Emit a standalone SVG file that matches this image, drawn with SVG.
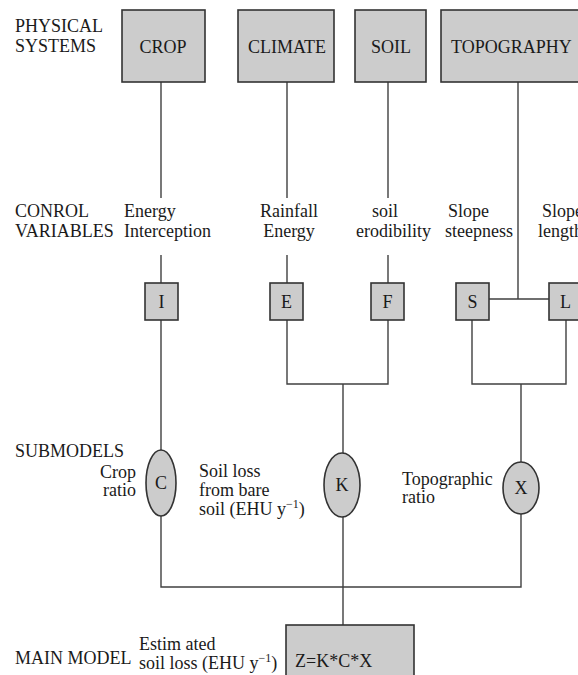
<svg xmlns="http://www.w3.org/2000/svg" width="578" height="675" viewBox="0 0 578 675">
<style>
text{font-family:"Liberation Serif","Times New Roman",serif;font-size:18px;fill:#1a1a1a}
.c{text-anchor:middle}
.r{text-anchor:end}
.box{fill:#cccccc;stroke:#333333;stroke-width:1.6}
.ln{fill:none;stroke:#404040;stroke-width:1.4}
.sup{font-size:12px}
</style>
<rect width="578" height="675" fill="#ffffff"/>
<g id="labels">
<text x="15" y="32">PHYSICAL</text>
<text x="15" y="52">SYSTEMS</text>
<text x="15" y="217">CONROL</text>
<text x="15" y="237">VARIABLES</text>
<text x="15" y="457">SUBMODELS</text>
<text x="15" y="664">MAIN MODEL</text>
<text x="124" y="217">Energy</text>
<text x="124" y="237">Interception</text>
<text x="289" y="217" class="c">Rainfall</text>
<text x="289" y="237" class="c">Energy</text>
<text x="372" y="217">soil</text>
<text x="356" y="237">erodibility</text>
<text x="448" y="217">Slope</text>
<text x="445" y="237">steepness</text>
<text x="542" y="217">Slope</text>
<text x="538" y="237">length</text>
<text x="136" y="478" class="r">Crop</text>
<text x="136" y="496" class="r">ratio</text>
<text x="199" y="477">Soil loss</text>
<text x="199" y="496">from bare</text>
<text x="199" y="515">soil (EHU y<tspan class="sup" dy="-7">−1</tspan><tspan dy="7">)</tspan></text>
<text x="402" y="485">Topographic</text>
<text x="402" y="503">ratio</text>
<text x="139" y="650">Estim ated</text>
<text x="139" y="669">soil loss (EHU y<tspan class="sup" dy="-7">−1</tspan><tspan dy="7">)</tspan></text>
</g>
<g id="connectors">
<path class="ln" d="M161 82V198M161 255V283M161 320V450"/>
<path class="ln" d="M287 82V198M287 255V283"/>
<path class="ln" d="M388 82V198M388 255V283"/>
<path class="ln" d="M518 82V299M489 299H549"/>
<path class="ln" d="M287 320V384H388V320M343 384V454"/>
<path class="ln" d="M472 320V384H566V320M521 384V462"/>
<path class="ln" d="M161 516V587H521V514M343 517V625"/>
</g>
<g id="crop"><rect class="box" x="122" y="10" width="83" height="72"/><text x="163" y="53" class="c">CROP</text></g>
<g id="climate"><rect class="box" x="238" y="10" width="96" height="72"/><text x="287" y="53" class="c">CLIMATE</text></g>
<g id="soil"><rect class="box" x="355" y="10" width="71" height="72"/><text x="391" y="53" class="c">SOIL</text></g>
<g id="topography"><rect class="box" x="441" y="10" width="160" height="72"/><text x="451" y="53">TOPOGRAPHY</text></g>
<g id="I"><rect class="box" x="145" y="283" width="33" height="37"/><text x="161.5" y="308" class="c">I</text></g>
<g id="E"><rect class="box" x="270" y="283" width="33" height="37"/><text x="286.5" y="308" class="c">E</text></g>
<g id="F"><rect class="box" x="371" y="283" width="33" height="37"/><text x="387.5" y="308" class="c">F</text></g>
<g id="S"><rect class="box" x="456" y="283" width="33" height="37"/><text x="472.5" y="308" class="c">S</text></g>
<g id="L"><rect class="box" x="549" y="283" width="33" height="37"/><text x="565.5" y="308" class="c">L</text></g>
<g id="C"><ellipse class="box" cx="161" cy="483" rx="15" ry="33"/><text x="161" y="489" class="c">C</text></g>
<g id="K"><ellipse class="box" cx="342" cy="485" rx="18" ry="32"/><text x="342" y="491" class="c">K</text></g>
<g id="X"><ellipse class="box" cx="521" cy="488" rx="18" ry="26"/><text x="521" y="494" class="c">X</text></g>
<g id="main"><rect class="box" x="286" y="625" width="128" height="60"/><text x="295" y="667">Z=K*C*X</text></g>
</svg>
